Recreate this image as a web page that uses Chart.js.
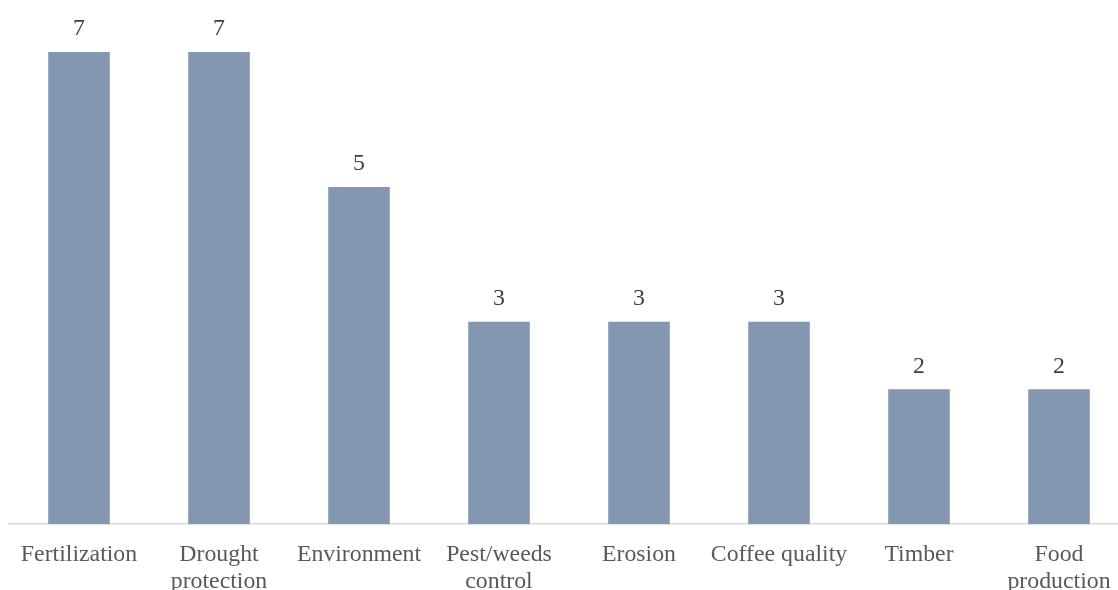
<!DOCTYPE html>
<html>
<head>
<meta charset="utf-8">
<script src="https://cdn.jsdelivr.net/npm/chart.js@4"></script>
<style>
html, body { margin: 0; padding: 0; overflow: hidden; background: #fff; }
#wrap { width: 1129px; height: 604px; }
</style>
</head>
<body>
<div id="wrap"><canvas id="benefits"></canvas></div>
<script>
var categories = ['Fertilization', ['Drought', 'protection'], 'Environment', ['Pest/weeds', 'control'],
    'Erosion', 'Coffee quality', 'Timber', ['Food', 'production']];
var counts = [7, 7, 5, 3, 3, 3, 2, 2];

var serif = '"Liberation Serif", "Times New Roman", serif';

// value labels above each bar
var valueLabels = {
    id: 'valueLabels',
    afterDatasetsDraw: function (chart) {
        var c = chart.ctx;
        var meta = chart.getDatasetMeta(0);
        c.save();
        c.font = '23.8px ' + serif;
        c.fillStyle = '#404040';
        c.textAlign = 'center';
        c.textBaseline = 'middle';
        meta.data.forEach(function (bar, i) {
            c.fillText(counts[i], bar.x, bar.y - 23);
        });
        c.restore();
    }
};

var ctx = document.getElementById('benefits').getContext('2d');
var myChart = new Chart(ctx, {
    type: 'bar',
    data: {
        labels: categories,
        datasets: [{
            label: '',
            data: counts,
            backgroundColor: '#8497b0',
            barPercentage: 0.44,
            categoryPercentage: 1
        }]
    },
    options: {
        responsive: true,
        maintainAspectRatio: false,
        animation: false,
        layout: { padding: { left: 9, right: 0, top: 52, bottom: 0 } },
        plugins: { legend: { display: false }, tooltip: { enabled: false } },
        scales: {
            y: { display: false, min: 0, max: 7 },
            x: {
                grid: { display: false },
                border: { color: '#d9d9d9', width: 1.5 },
                ticks: {
                    color: '#595959',
                    padding: 9,
                    maxRotation: 0,
                    autoSkip: false,
                    font: { family: serif, size: 23.8, lineHeight: 1.13 }
                }
            }
        }
    },
    plugins: [valueLabels]
});
</script>
</body>
</html>
